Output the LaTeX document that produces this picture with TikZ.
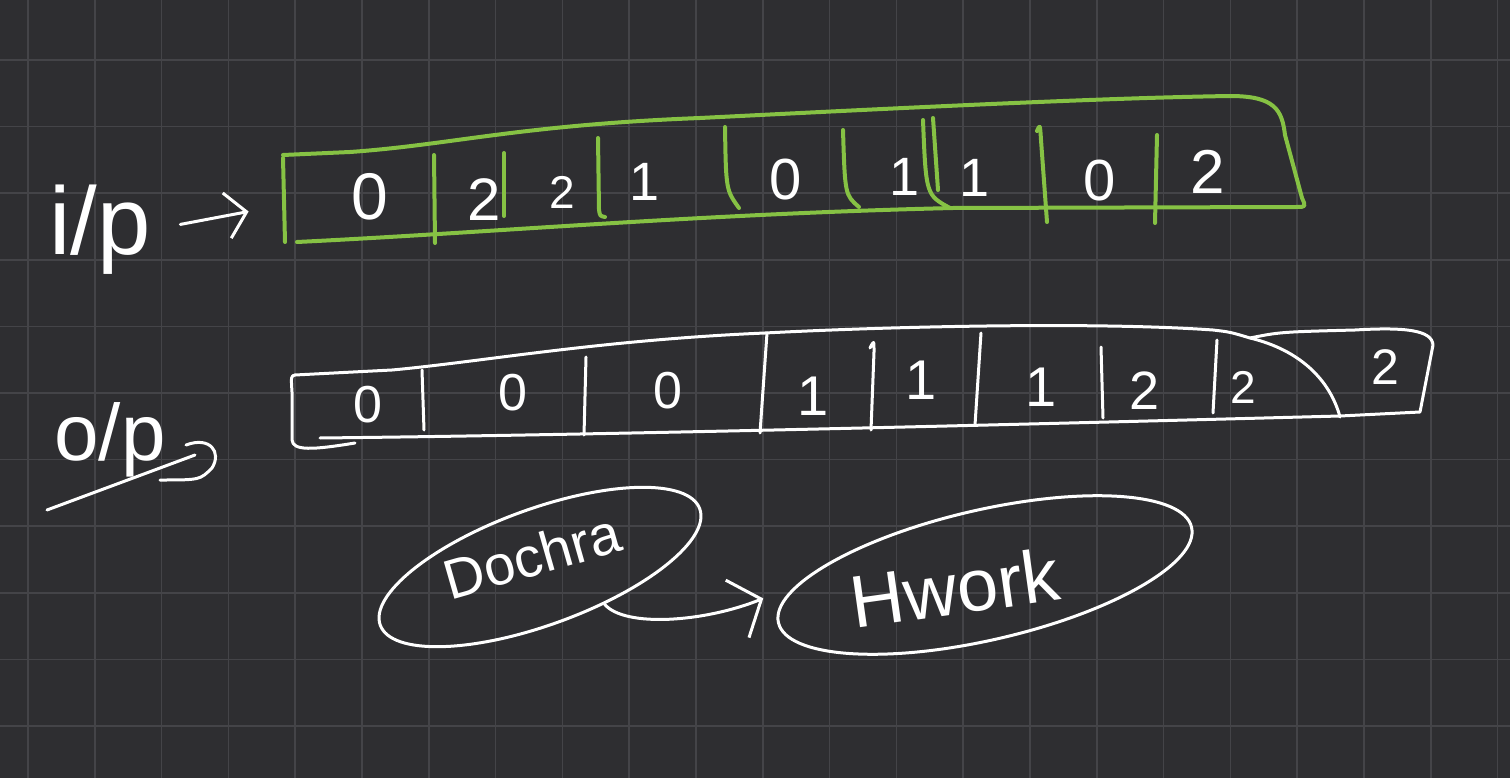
\documentclass[tikz,border=0pt]{standalone}
\usepackage{fontspec}
\setmainfont{Liberation Sans}
\usetikzlibrary{arrows.meta,shapes.geometric}
\definecolor{boardbg}{RGB}{46,46,49}
\definecolor{gridgray}{RGB}{68,68,72}
\definecolor{chalkgreen}{RGB}{134,194,68}
\tikzset{
  gridline/.style={gridgray, line width=1.5pt},
  greenline/.style={chalkgreen, line width=4pt, line cap=round, line join=round},
  chalk/.style={white, line width=3pt, line cap=round, line join=round},
  handarrow/.style={chalk, -{Straight Barb[length=20pt,width=46pt,line width=3pt]}},
  digit/.style={white, inner sep=0pt, font=\fontsize{#1}{#1}\selectfont},
}
\begin{document}
\begin{tikzpicture}[x=1pt, y=-1pt]
  \useasboundingbox (0,0) rectangle (1510,778);
  \fill[boardbg] (0,0) rectangle (1510,778);
  \foreach \k in {0,...,22} \draw[gridline] (28+66.8*\k,0) -- (28+66.8*\k,778);
  \foreach \k in {0,...,10} \draw[gridline] (0,60+66.6*\k) -- (1510,60+66.6*\k);

  % input row
  \node[digit=96] (ip) at (100,230) {i/p};
  \coordinate (inleft) at (283,205);
  \draw[handarrow, shorten <=30pt, shorten >=35pt] (ip.east) -- (inleft);
  \draw[greenline] (283,155) -- (350,152) .. controls (450,145) and (520,125) .. (700,118)
    .. controls (900,108) and (1100,98) .. (1230,96) .. controls (1275,96) and (1282,110) .. (1285,135)
    -- (1302,198) .. controls (1306,207) .. (1296,207) -- (953,208)
    .. controls (700,214) and (500,232) .. (297,242);
  \draw[greenline] (283,158) -- (285,242);
  \draw[greenline] (434,155) -- (435,243);
  \draw[greenline] (504,153) -- (504,216);
  \draw[greenline] (598,138) -- (599,210) .. controls (600,216) .. (605,217);
  \draw[greenline] (725,127) .. controls (726,190) .. (739,208);
  \draw[greenline] (843,130) .. controls (845,195) .. (859,207);
  \draw[greenline] (923,120) .. controls (926,195) .. (950,208);
  \draw[greenline] (933,118) -- (938,190);
  \draw[greenline] (1037,131) .. controls (1040,124) .. (1041,140) -- (1047,222);
  \draw[greenline] (1157,135) -- (1155,223);
  \foreach \x/\y/\s/\v [count=\i] in {370/197/66/0, 484/200/60/2, 562/192/46/2, 645/182/54/1,
      786/180/58/0, 905/177/54/1, 975/178/54/1, 1100/181/58/0, 1208/172/62/2}
    \node[digit=\s] (top\i) at (\x,\y) {\v};

  % output row
  \node[digit=80] (op) at (110,440) {o/p};
  \coordinate (optail) at (47,510);
  \coordinate (ophead) at (195,455);
  \draw[chalk] (optail) -- (ophead);
  \draw[chalk] (186,445) .. controls (210,436) and (222,452) .. (212,468) .. controls (200,480) .. (160,480);
  \draw[chalk] (295,375) -- (392,370) .. controls (480,362) and (600,340) .. (765,333)
    .. controls (900,326) and (1100,322) .. (1213,330) .. controls (1230,332) .. (1250,338)
    .. controls (1300,350) and (1330,380) .. (1340,417);
  \draw[chalk] (1250,338) .. controls (1280,332) .. (1355,330) .. controls (1405,327) and (1432,330) .. (1433,345)
    -- (1420,412) -- (1340,416) .. controls (1000,425) and (600,435) .. (320,438);
  \draw[chalk] (295,375) .. controls (291,376) .. (292,392) -- (292,440) .. controls (293,451) and (312,450) .. (355,443);
  \draw[chalk] (422,370) -- (424,430);
  \draw[chalk] (586,357) -- (584,435);
  \draw[chalk] (767,333) -- (760,433);
  \draw[chalk] (870,348) .. controls (874,340) .. (874,352) -- (871,430);
  \draw[chalk] (981,333) -- (975,425);
  \draw[chalk] (1101,347) -- (1103,418);
  \draw[chalk] (1217,340) -- (1213,413);
  \foreach \x/\y/\s/\v [count=\i] in {368/405/52/0, 513/393/52/0, 668/391/52/0, 813/396/56/1,
      921/380/56/1, 1041/387/56/1, 1145/391/54/2, 1243/387/46/2, 1385/367/50/2}
    \node[digit=\s] (bot\i) at (\x,\y) {\v};

  % ovals
  \node[chalk, draw, ellipse, minimum width=340pt, minimum height=116pt, rotate=20, inner sep=0pt]
    (dochraring) at (540,567) {};
  \node[digit=56, rotate=16] (dochra) at (532,556) {Dochra};
  \node[chalk, draw, ellipse, minimum width=424pt, minimum height=130pt, rotate=13, inner sep=0pt]
    (hworkring) at (985,575) {};
  \node[digit=74, rotate=8] (hwork) at (955,588) {Hwork};
  \draw[chalk, shorten >=36pt, -{Straight Barb[length=26pt,width=62pt,line width=3pt]}]
    (dochraring.-50) .. controls (625,628) and (705,622) .. (hworkring.170);
\end{tikzpicture}
\end{document}
